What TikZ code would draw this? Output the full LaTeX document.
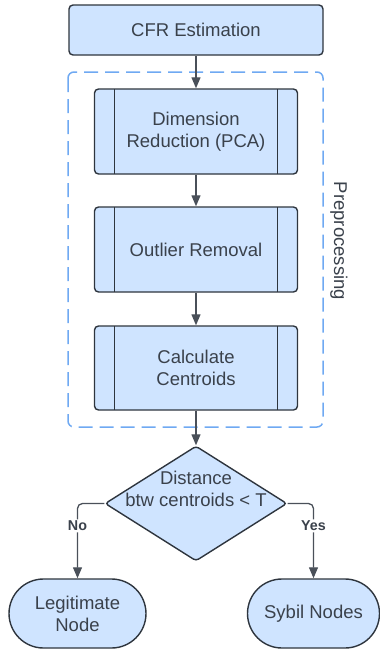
\documentclass[tikz,border=0pt]{standalone}
\usepackage{fontspec}
\setmainfont{Liberation Sans}
\usetikzlibrary{arrows.meta,shapes.geometric,shapes.misc}
\definecolor{fillb}{HTML}{CFE4FF}
\definecolor{edgec}{HTML}{2E353E}
\definecolor{txtc}{HTML}{3A414B}
\definecolor{arrc}{HTML}{4A5059}
\definecolor{dashc}{HTML}{6FA9F2}
\begin{document}
\begin{tikzpicture}[x=1pt,y=-1pt,
  base/.style={draw=edgec, fill=fillb, line width=1.4pt, text=txtc,
    font=\fontsize{18.5}{22}\selectfont, align=center, inner sep=0pt},
  procbox/.style={base, rectangle, rounded corners=4pt},
  subproc/.style={procbox, minimum width=203pt, minimum height=85pt,
    path picture={
      \draw[edgec, line width=1.4pt]
        ([xshift=20pt]path picture bounding box.north west) -- ([xshift=20pt]path picture bounding box.south west)
        ([xshift=-20pt]path picture bounding box.north east) -- ([xshift=-20pt]path picture bounding box.south east);
    }},
  decision/.style={base, diamond, rounded corners=3pt, minimum width=182pt, minimum height=115pt},
  terminal/.style={base, rounded rectangle, minimum height=69pt},
  txt/.style={text=txtc, font=\fontsize{18.5}{22}\selectfont, align=center, inner sep=0pt},
  arr/.style={draw=arrc, line width=1.3pt, -{Triangle[length=11pt,width=9pt]}, rounded corners=5pt},
  lbl/.style={fill=white, text=txtc, font=\fontsize{14.3}{16}\selectfont\bfseries, inner sep=1.5pt},
  groupbox/.style={draw=dashc, line width=1.5pt, dash pattern=on 14pt off 7pt, rounded corners=6pt}
]
\useasboundingbox (0,0) rectangle (380,649);

\draw[groupbox] (68,72) rectangle (323,427);
\node[txt, rotate=-90] (pre) at (339,241) {Preprocessing};

\node[procbox, minimum width=254pt, minimum height=50pt] (cfr) at (196,30) {CFR Estimation};
\node[subproc] (dim) at (196,131.5) {Dimension\\Reduction (PCA)};
\node[subproc] (out) at (196,249.5) {Outlier Removal};
\node[subproc, minimum height=84pt] (cal) at (196,368) {Calculate\\Centroids};
\node[decision] (dec) at (196,503.5) {};
\node[txt] (dect) at (196,489) {Distance\\btw centroids < T};
\node[terminal, minimum width=137pt] (leg) at (77.5,613.5) {Legitimate\\Node};
\node[terminal, minimum width=132pt] (syb) at (313.5,613.5) {Sybil Nodes};

\draw[arr] (cfr) -- (dim);
\draw[arr] (dim) -- (out);
\draw[arr] (out) -- (cal);
\draw[arr] (cal) -- (dec);
\draw[arr] (dec.west) -| node[lbl, pos=0.65] {No} (leg.north);
\draw[arr] (dec.east) -| node[lbl, pos=0.65] {Yes} (syb.north);
\end{tikzpicture}
\end{document}
